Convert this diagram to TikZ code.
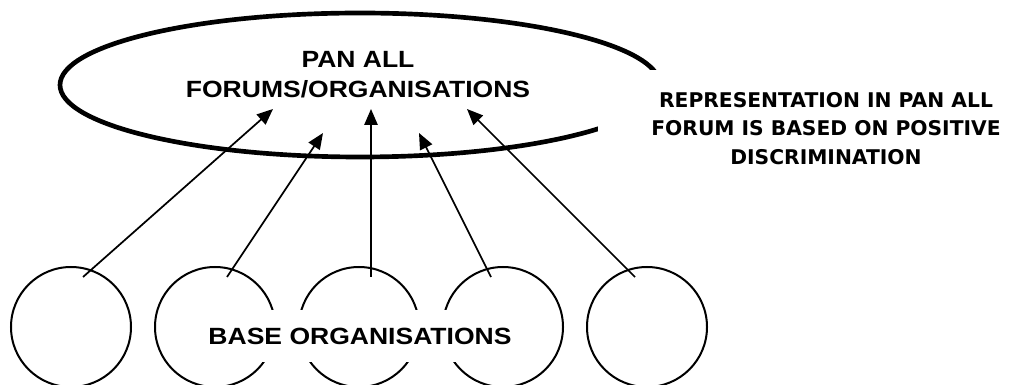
\documentclass[tikz,border=0pt]{standalone}
\usepackage{fontspec}
\setmainfont{Liberation Sans}
\newfontfamily\titlefont[FakeStretch=1.13]{Liberation Sans}
\newfontfamily\notefont{DejaVu Sans}
\usetikzlibrary{shapes.geometric,arrows.meta}

\begin{document}
\begin{tikzpicture}[x=0.75pt,y=0.75pt]
\useasboundingbox (0,0) rectangle (1010,385);
\pgfmathsetmacro{\r}{60}
\pgfmathsetmacro{\yb}{58}

% pan all forum
\node[draw, ellipse, line width=3.5pt, minimum width=450pt, minimum height=108pt, inner sep=0pt] (forum) at (360,300) {};
\node[align=center, font=\titlefont\bfseries\fontsize{17.6}{22.5}\selectfont] (forumtext) at (358,310) {PAN ALL\\FORUMS/ORGANISATIONS};

% base organisations
\foreach \i/\xc in {1/71,2/215,3/359,4/503,5/647} {
\node[draw, circle, line width=1.5pt, minimum size={2*\r*0.75pt}, inner sep=0pt] (b\i) at (\xc,\yb) {};
}
\foreach \i/\dx/\dy in {1/-87/-24,2/-37/-48,3/11/-24,4/59/-48,5/107/-24} {
\coordinate (t\i) at ([shift={(\dx,\dy)}]forum.center);
}
\foreach \i/\dx in {1/12,2/12,3/12,4/-12,5/-12} {
\draw[line width=1.3pt, -{Triangle[length=12pt,width=10pt]}] ([shift={(\dx,50)}]b\i.center) -- (t\i);
}

\node[fill=white, minimum width=232.5pt, minimum height=39pt, font=\titlefont\bfseries\fontsize{17.6}{22.5}\selectfont] (base) at (360,48.5) {BASE ORGANISATIONS};
\node[fill=white, align=center, minimum width=342pt, minimum height=87.75pt, font=\notefont\bfseries\fontsize{15.2}{21.4}\selectfont] (note) at (826,256.5) {REPRESENTATION IN PAN ALL\\FORUM IS BASED ON POSITIVE\\DISCRIMINATION};
\end{tikzpicture}
\end{document}
